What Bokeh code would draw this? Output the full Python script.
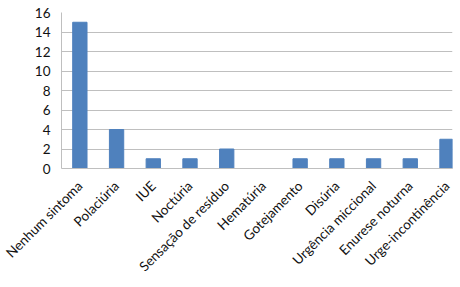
import math
from bokeh.plotting import figure
from bokeh.models import Range1d, FixedTicker
from bokeh.embed import file_html
from bokeh.resources import INLINE

categories = ["Nenhum sintoma", "Polaciúria", "IUE", "Noctúria", "Sensação de resíduo",
              "Hematúria", "Gotejamento", "Disúria", "Urgência miccional",
              "Enurese noturna", "Urge-incontinência"]
values = [15, 4, 1, 1, 2, 0, 1, 1, 1, 1, 3]
y_ticks = [0, 2, 4, 6, 8, 10, 12, 14, 16]

xpos = [i + 0.5 for i in range(len(categories))]

p = figure(width=460, height=287, x_range=Range1d(0, 10.65),
           y_range=Range1d(0, 16), output_backend="svg", toolbar_location=None,
           min_border_left=61, min_border_right=8, min_border_top=12, min_border_bottom=119)
p.vbar(x=xpos, top=values, width=0.39, color="#4F81BD")

p.outline_line_color = None
p.xgrid.grid_line_color = None
p.ygrid.grid_line_color = "#BFBFBF"
p.ygrid.grid_line_width = 1
p.yaxis.ticker = FixedTicker(ticks=y_ticks)
p.xaxis.ticker = FixedTicker(ticks=xpos)
p.xaxis.major_label_overrides = {x: c for x, c in zip(xpos, categories)}
for ax in (p.xaxis, p.yaxis):
    ax.axis_line_color = "#BFBFBF"
    ax.major_tick_line_color = None
    ax.minor_tick_line_color = None
    ax.major_label_text_font = "Lato"
    ax.major_label_text_font_size = "13.5px"
    ax.major_label_text_color = "#111111"
p.xaxis.major_label_orientation = math.pi / 4
p.xaxis.major_label_standoff = 9
p.yaxis.major_label_standoff = 5

open("out.html", "w").write(file_html(p, INLINE))
